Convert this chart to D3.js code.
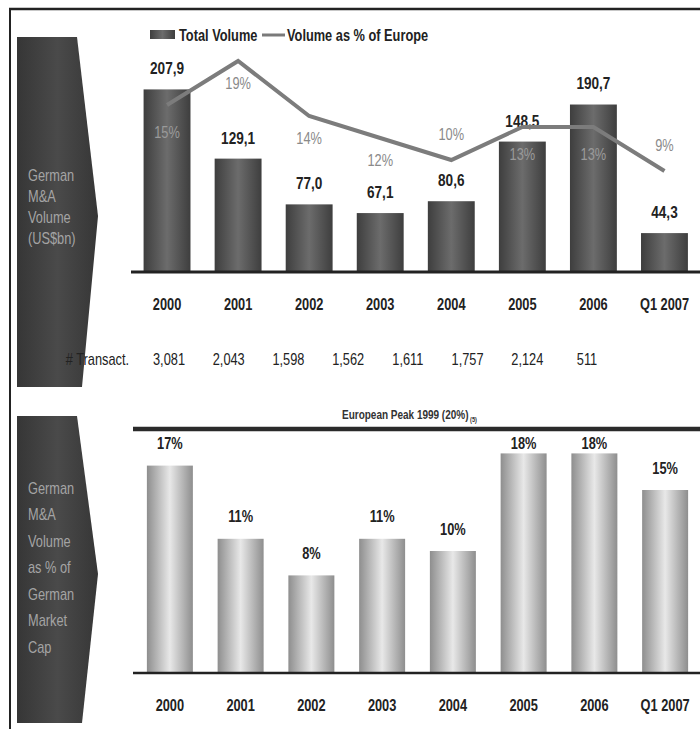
<!DOCTYPE html>
<html>
<head>
<meta charset="utf-8">
<script src="https://cdn.jsdelivr.net/npm/d3@7"></script>
<style>
  body { margin: 0; background: #fff; }
  svg { display: block; }
  text { font-family: "Liberation Sans", Arial, sans-serif; }
</style>
</head>
<body>
<svg width="700" height="729"></svg>
<script>
var categories = ["2000", "2001", "2002", "2003", "2004", "2005", "2006", "Q1 2007"];
var totalVolume = [207.9, 129.1, 77.0, 67.1, 80.6, 148.5, 190.7, 44.3];
var pctOfEurope = [15, 19, 14, 12, 10, 13, 13, 9];
var transactions = ["3,081", "2,043", "1,598", "1,562", "1,611", "1,757", "2,124", "511"];
var pctOfMarketCap = [17, 11, 8, 11, 10, 18, 18, 15];
var europeanPeak = 20;
var topArrowLines = ["German", "M&A", "Volume", "(US$bn)"];
var bottomArrowLines = ["German", "M&A", "Volume", "as % of", "German", "Market", "Cap"];

var svg = d3.select("svg");
var defs = svg.append("defs");

function hGradient(id, edge, mid) {
    var g = defs.append("linearGradient").attr("id", id)
        .attr("x1", "0%").attr("x2", "100%").attr("y1", "0%").attr("y2", "0%");
    g.append("stop").attr("offset", "0%").attr("stop-color", edge);
    g.append("stop").attr("offset", "50%").attr("stop-color", mid);
    g.append("stop").attr("offset", "100%").attr("stop-color", edge);
}
hGradient("darkBar", "#3e3e3e", "#6c6c6c");
hGradient("lightBar", "#8e8e8e", "#e8e8e8");
hGradient("arrowFill", "#363636", "#4a4a4a");

var fmtVol = function (v) { return d3.format(".1f")(v).replace(".", ","); };

// frame
svg.append("line").attr("x1", 9).attr("x2", 700).attr("y1", 9).attr("y2", 9)
    .attr("stroke", "#222").attr("stroke-width", 2.5);
svg.append("line").attr("x1", 10).attr("x2", 10).attr("y1", 9).attr("y2", 729)
    .attr("stroke", "#222").attr("stroke-width", 2);

// side arrows
function sideArrow(top, mid, bottom, lines, firstY, step) {
    var pts = [[17, top], [77, top], [98, mid], [82, bottom], [17, bottom]];
    svg.append("path")
        .attr("d", d3.line()(pts) + "Z")
        .attr("fill", "url(#arrowFill)");
    svg.append("g").selectAll("text")
        .data(lines)
        .enter().append("text")
        .attr("x", 28)
        .attr("y", function (d, i) { return firstY + i * step; })
        .attr("dy", "0.35em")
        .attr("font-size", 16)
        .attr("fill", "#a4a4a4")
        .text(function (d) { return d; });
}
sideArrow(37, 216, 387, topArrowLines, 175, 21);
sideArrow(416, 574, 723, bottomArrowLines, 488, 26.5);

// ---- top chart ----
var x = d3.scaleBand().domain(categories).range([131.5, 700])
    .paddingInner(0.34).paddingOuter(0.17);
var y = d3.scaleLinear().domain([0, 230]).range([272, 70]);
var yPct = d3.scaleLinear().domain([0, 20]).range([270, 50]);
var xTrans = d3.scalePoint().domain(categories).range([169, 587]);

// legend
svg.append("rect").attr("x", 150).attr("y", 30).attr("width", 25).attr("height", 9)
    .attr("fill", "url(#darkBar)");
svg.append("text").attr("x", 179).attr("y", 35).attr("dy", "0.35em")
    .attr("font-size", 16).attr("font-weight", "bold").attr("fill", "#222")
    .text("Total Volume");
svg.append("line").attr("x1", 262).attr("x2", 285).attr("y1", 35).attr("y2", 35)
    .attr("stroke", "#7a7a7a").attr("stroke-width", 3);
svg.append("text").attr("x", 287).attr("y", 35).attr("dy", "0.35em")
    .attr("font-size", 16).attr("font-weight", "bold").attr("fill", "#222")
    .text("Volume as % of Europe");

svg.append("g").selectAll("rect")
    .data(totalVolume)
    .enter().append("rect")
    .attr("x", function (d, i) { return x(categories[i]); })
    .attr("y", function (d) { return y(d); })
    .attr("width", x.bandwidth())
    .attr("height", function (d) { return y(0) - y(d); })
    .attr("fill", "url(#darkBar)");

svg.append("line").attr("x1", 131).attr("x2", 700).attr("y1", y(0)).attr("y2", y(0))
    .attr("stroke", "#222").attr("stroke-width", 3);

svg.append("g").selectAll("text")
    .data(totalVolume)
    .enter().append("text")
    .attr("x", function (d, i) { return x(categories[i]) + x.bandwidth() / 2; })
    .attr("y", function (d) { return y(d) - 21; })
    .attr("dy", "0.35em")
    .attr("text-anchor", "middle")
    .attr("font-size", 17).attr("font-weight", "bold").attr("fill", "#222")
    .text(fmtVol);

// percentage line
var pctLine = d3.line()
    .x(function (d, i) { return x(categories[i]) + x.bandwidth() / 2; })
    .y(function (d) { return yPct(d); });
svg.append("path")
    .datum(pctOfEurope)
    .attr("d", pctLine)
    .attr("fill", "none")
    .attr("stroke", "#7c7c7c")
    .attr("stroke-width", 4);

var labelAbove = { "2004": true, "Q1 2007": true };
var insideBar = { "2000": true, "2005": true, "2006": true };
svg.append("g").selectAll("text")
    .data(pctOfEurope)
    .enter().append("text")
    .attr("x", function (d, i) { return x(categories[i]) + x.bandwidth() / 2; })
    .attr("y", function (d, i) {
        var c = categories[i];
        if (labelAbove[c]) return yPct(d) - 26;
        if (insideBar[c]) return yPct(d) + 27;
        return yPct(d) + 22;
    })
    .attr("dy", "0.35em")
    .attr("text-anchor", "middle")
    .attr("font-size", 16)
    .attr("fill", function (d, i) { return insideBar[categories[i]] ? "#9a9a9a" : "#8a8a8a"; })
    .text(function (d) { return d + "%"; });

svg.append("g").selectAll("text")
    .data(categories)
    .enter().append("text")
    .attr("x", function (d) { return x(d) + x.bandwidth() / 2; })
    .attr("y", 304)
    .attr("dy", "0.35em")
    .attr("text-anchor", "middle")
    .attr("font-size", 16).attr("font-weight", "bold").attr("fill", "#222")
    .text(function (d) { return d; });

svg.append("text").attr("x", 129).attr("y", 359).attr("dy", "0.35em")
    .attr("text-anchor", "end").attr("font-size", 16).attr("fill", "#222")
    .text("# Transact.");
svg.append("g").selectAll("text")
    .data(transactions)
    .enter().append("text")
    .attr("x", function (d, i) { return xTrans(categories[i]); })
    .attr("y", 359)
    .attr("dy", "0.35em")
    .attr("text-anchor", "middle")
    .attr("font-size", 16).attr("fill", "#222")
    .text(function (d) { return d; });

// ---- bottom chart ----
var x2 = d3.scaleBand().domain(categories).range([134.5, 700.5])
    .paddingInner(0.35).paddingOuter(0.175);
var y2 = d3.scaleLinear().domain([0, 20]).range([673, 429]);

svg.append("g").selectAll("rect")
    .data(pctOfMarketCap)
    .enter().append("rect")
    .attr("x", function (d, i) { return x2(categories[i]); })
    .attr("y", function (d) { return y2(d); })
    .attr("width", x2.bandwidth())
    .attr("height", function (d) { return y2(0) - y2(d); })
    .attr("fill", "url(#lightBar)");

svg.append("line").attr("x1", 133).attr("x2", 700).attr("y1", y2(europeanPeak)).attr("y2", y2(europeanPeak))
    .attr("stroke", "#2a2a2a").attr("stroke-width", 4.5);
var peakLabel = svg.append("text").attr("x", 342).attr("y", 415).attr("dy", "0.35em")
    .attr("font-size", 12.5).attr("font-weight", "bold").attr("fill", "#333");
peakLabel.append("tspan").text("European Peak 1999 (" + europeanPeak + "%)");
peakLabel.append("tspan").attr("font-size", 7).attr("dx", 2).attr("dy", 3).text("(5)");

svg.append("line").attr("x1", 133).attr("x2", 700).attr("y1", y2(0)).attr("y2", y2(0))
    .attr("stroke", "#222").attr("stroke-width", 2.5);

svg.append("g").selectAll("text")
    .data(pctOfMarketCap)
    .enter().append("text")
    .attr("x", function (d, i) { return x2(categories[i]) + x2.bandwidth() / 2; })
    .attr("y", function (d) { return Math.max(y2(d) - 22, y2(europeanPeak) + 14); })
    .attr("dy", "0.35em")
    .attr("text-anchor", "middle")
    .attr("font-size", 16).attr("font-weight", "bold").attr("fill", "#222")
    .text(function (d) { return d + "%"; });

svg.append("g").selectAll("text")
    .data(categories)
    .enter().append("text")
    .attr("x", function (d) { return x2(d) + x2.bandwidth() / 2; })
    .attr("y", 705)
    .attr("dy", "0.35em")
    .attr("text-anchor", "middle")
    .attr("font-size", 16).attr("font-weight", "bold").attr("fill", "#222")
    .text(function (d) { return d; });

// squeeze all text horizontally to mimic a narrow font
svg.selectAll("text").each(function () {
    var t = d3.select(this);
    var tx = +t.attr("x"), ty = +t.attr("y");
    t.attr("x", null).attr("y", null)
        .attr("transform", "translate(" + tx + "," + ty + ") scale(0.8,1)");
});
</script>
</body>
</html>
